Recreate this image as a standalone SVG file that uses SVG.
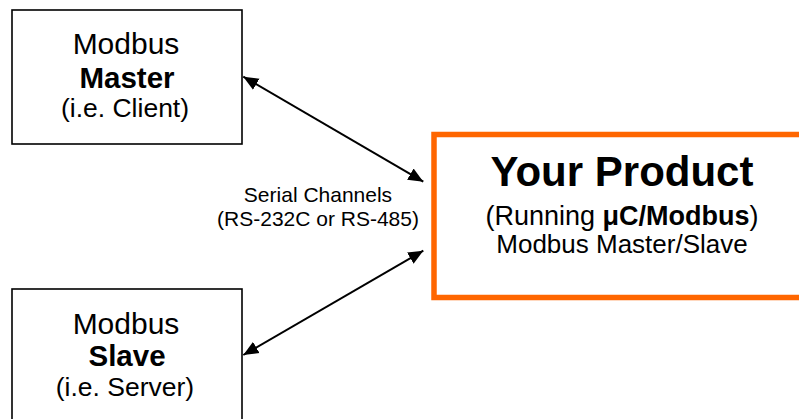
<svg xmlns="http://www.w3.org/2000/svg" width="799" height="419" viewBox="0 0 799 419">
<style>
text{font-family:"Liberation Sans",Arial,sans-serif;fill:#000;text-anchor:middle}
.box{fill:#fff;stroke:#000;stroke-width:1.6}
.prod{fill:#fff;stroke:#FF6600;stroke-width:5.5}
.b{font-weight:bold}
.conn{stroke:#000;stroke-width:2;fill:none;marker-start:url(#ah);marker-end:url(#ah)}
</style>
<defs>
<marker id="ah" markerUnits="userSpaceOnUse" markerWidth="16" markerHeight="14" refX="15" refY="6.5" orient="auto-start-reverse" viewBox="0 0 16 13">
<path d="M0,0 L15,6.5 L0,13 Z" fill="#000"/>
</marker>
</defs>
<rect width="799" height="419" fill="#fff"/>
<g id="master">
<rect class="box" x="12" y="10" width="230" height="134"/>
<text x="126" y="54" font-size="30">Modbus</text>
<text x="127" y="87.5" font-size="29.5" class="b">Master</text>
<text x="125" y="117" font-size="26.5">(i.e. Client)</text>
</g>
<g id="slave">
<rect class="box" x="12" y="289" width="230" height="140"/>
<text x="126" y="334" font-size="30">Modbus</text>
<text x="127" y="365.5" font-size="29.5" class="b">Slave</text>
<text x="125" y="396" font-size="26.5">(i.e. Server)</text>
</g>
<g id="product">
<rect class="prod" x="434" y="134.5" width="400" height="163"/>
<text x="622" y="186" font-size="42" class="b">Your Product</text>
<text x="622" y="224.5" font-size="27">(Running <tspan class="b">μC/Modbus</tspan>)</text>
<text x="622" y="253" font-size="26">Modbus Master/Slave</text>
</g>
<g id="connectors">
<line class="conn" x1="243.3" y1="76.7" x2="423.3" y2="181.7"/>
<line class="conn" x1="243.3" y1="355" x2="423.3" y2="250.7"/>
</g>
<g id="label">
<text x="318" y="202" font-size="21">Serial Channels</text>
<text x="318" y="226" font-size="21">(RS-232C or RS-485)</text>
</g>
</svg>
